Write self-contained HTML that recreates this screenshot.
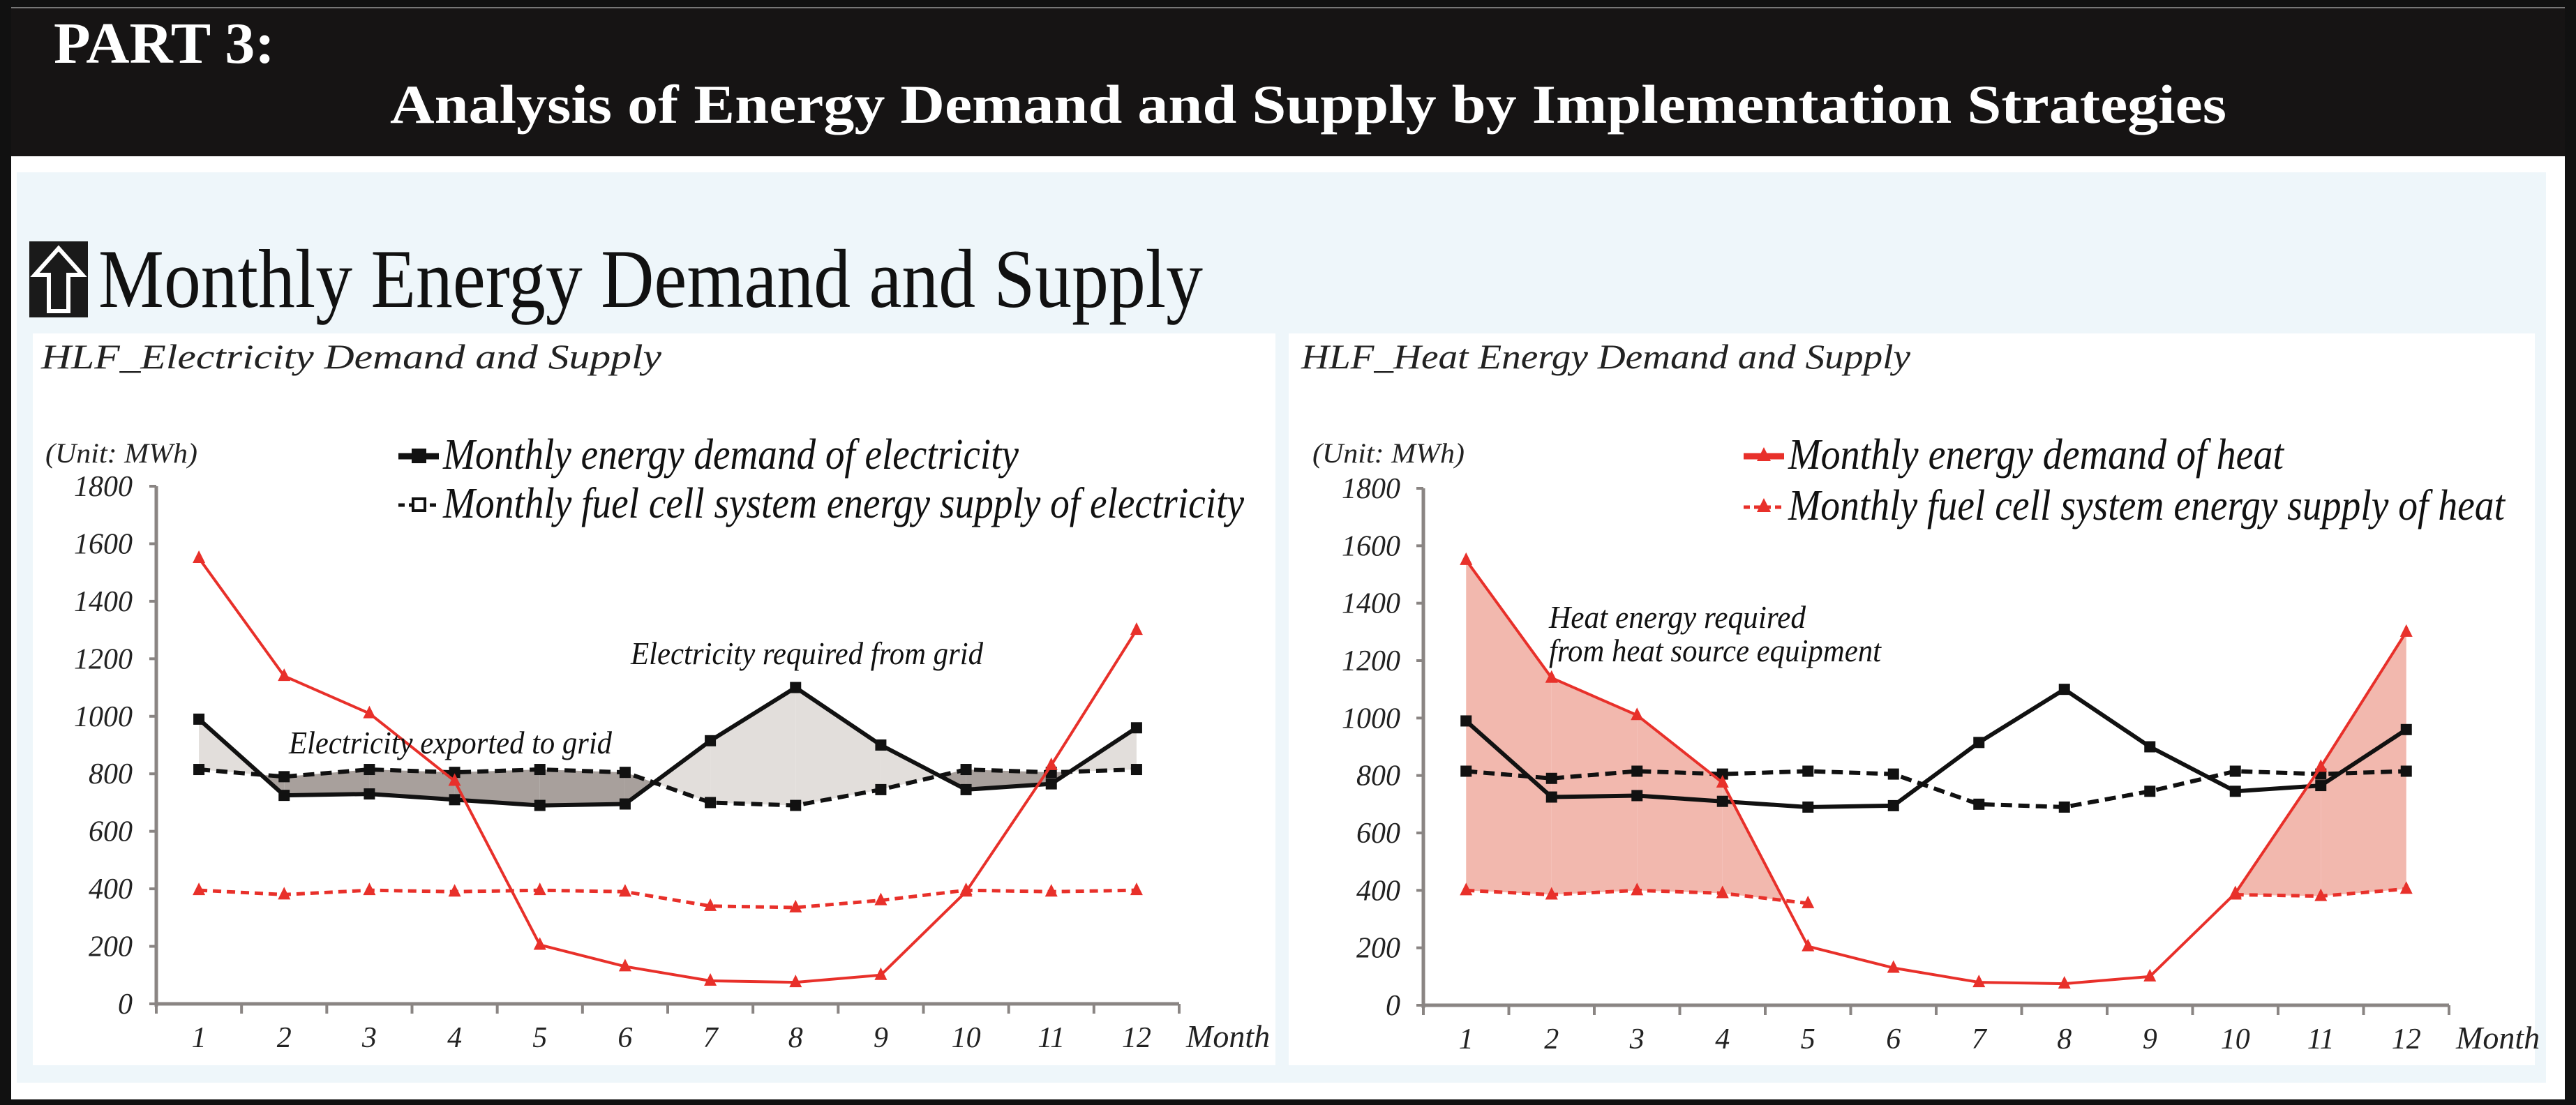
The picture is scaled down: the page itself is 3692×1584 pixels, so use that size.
<!DOCTYPE html>
<html><head><meta charset="utf-8"><style>
html,body{margin:0;padding:0;background:#fff}
svg{display:block}
svg, svg text{font-family:"Liberation Serif",serif}
</style></head><body>
<svg id="root" width="3692" height="1584" viewBox="0 0 3692 1584" xmlns="http://www.w3.org/2000/svg" font-family="'Liberation Serif', serif">
<rect x="0" y="0" width="3692" height="1584" fill="#111"/>
<rect x="16" y="224" width="3660" height="1352" fill="#fff"/>
<rect x="16" y="10" width="3660" height="214" fill="#161414"/>
<line x1="16" y1="11" x2="3676" y2="11" stroke="#777" stroke-width="2"/>
<text x="77" y="90" font-size="84" font-weight="bold" fill="#fff" textLength="317" lengthAdjust="spacingAndGlyphs">PART 3:</text>
<text x="559" y="176" font-size="78" font-weight="bold" fill="#fff" textLength="2632" lengthAdjust="spacingAndGlyphs">Analysis of Energy Demand and Supply by Implementation Strategies</text>
<rect x="24" y="247" width="3625" height="1305" fill="#eef6fa"/>
<g>
<rect x="42" y="346" width="84" height="109" fill="#1a1a1a"/>
<path d="M84 356 L118 394 L98 394 L98 446 L70 446 L70 394 L50 394 Z" fill="none" stroke="#fff" stroke-width="6"/>
</g>
<text x="141" y="440" font-size="120" fill="#111" textLength="1583" lengthAdjust="spacingAndGlyphs">Monthly Energy Demand and Supply</text>
<rect x="47" y="478" width="1781" height="1049" fill="#fff"/>
<rect x="1847" y="478" width="1786" height="1049" fill="#fff"/>
<text x="59" y="528" font-size="50" font-style="italic" fill="#222" textLength="889" lengthAdjust="spacingAndGlyphs">HLF_Electricity Demand and Supply</text>
<text x="1865" y="528" font-size="50" font-style="italic" fill="#222" textLength="873" lengthAdjust="spacingAndGlyphs">HLF_Heat Energy Demand and Supply</text>
<g id="left"></g>
<g id="right"></g>
</svg>
<script>
const months = [1,2,3,4,5,6,7,8,9,10,11,12];
const yTicks = [0,200,400,600,800,1000,1200,1400,1600,1800];
const elecDemand = [990,725,730,710,690,695,915,1100,900,745,765,960];
const elecSupply = [815,790,815,805,815,805,700,690,745,815,805,815];
const heatDemand = [1550,1140,1010,775,205,130,80,75,100,390,830,1300];
const heatSupplyLeft = [395,380,395,390,395,390,340,335,360,395,390,395];
const heatSupplyRight = [400,385,400,390,355,null,null,null,null,385,380,405];

const NS = "http://www.w3.org/2000/svg";
const RED = "#e8302a";
function mk(parent, tag, attrs, txt){
  const e = document.createElementNS(NS, tag);
  for (const k in attrs) e.setAttribute(k, attrs[k]);
  if (txt !== undefined) e.textContent = txt;
  parent.appendChild(e);
  return e;
}

function chart(g, o){
  const band = (o.axisEnd - o.axisX) / months.length;
  const xs = m => o.axisX + (m - 0.5) * band;
  const ys = v => o.y0 - v / 1800 * (o.y0 - o.y1800);
  function fillBetween(top, bot, posColor, negColor, name){
    for (let i = 0; i < months.length - 1; i++){
      const a0 = top[i], a1 = top[i+1], b0 = bot[i], b1 = bot[i+1];
      if (a0 == null || a1 == null || b0 == null || b1 == null) continue;
      const d0 = a0 - b0, d1 = a1 - b1;
      const x0 = xs(months[i]), x1 = xs(months[i+1]);
      if (d0 * d1 >= 0){
        const col = (d0 + d1) >= 0 ? posColor : negColor;
        if (!col) continue;
        const p = mk(g, 'polygon', {points:`${x0},${ys(a0)} ${x1},${ys(a1)} ${x1},${ys(b1)} ${x0},${ys(b0)}`, fill:col});
        
        
      } else {
        const t = d0 / (d0 - d1);
        const xc = x0 + t * (x1 - x0), vc = a0 + t * (a1 - a0);
        const c0 = d0 > 0 ? posColor : negColor, c1 = d1 > 0 ? posColor : negColor;
        if (c0){
          const p = mk(g, 'polygon', {points:`${x0},${ys(a0)} ${xc},${ys(vc)} ${x0},${ys(b0)}`, fill:c0});
          
          
        }
        if (c1){
          const p = mk(g, 'polygon', {points:`${xc},${ys(vc)} ${x1},${ys(a1)} ${x1},${ys(b1)}`, fill:c1});
          
          
        }
      }
    }
  }
  if (o.left){
    fillBetween(elecDemand, elecSupply, '#e2dedb', '#a8a09c', 'grid-area-fill');
  } else {
    fillBetween(heatDemand, o.heatSupply, '#f2b8ae', null, 'heat-required-fill');
  }
  const ax = mk(g, 'line', {x1:o.axisX, y1:o.y1800, x2:o.axisX, y2:o.y0+4, stroke:'#8a8583', 'stroke-width':5});
  
  
  const xa = mk(g, 'line', {x1:o.axisX, y1:o.y0, x2:o.axisEnd, y2:o.y0, stroke:'#8a8583', 'stroke-width':5});
  
  
  yTicks.forEach(v => {
    const l = mk(g, 'line', {x1:o.axisX-10, y1:ys(v), x2:o.axisX, y2:ys(v), stroke:'#8a8583', 'stroke-width':4});
    
    
    const t = mk(g, 'text', {x:o.tickRight, y:ys(v)+14, 'font-size':42, 'font-style':'italic', 'text-anchor':'end', fill:'#222'}, String(v));
    
    
  });
  for (let i = 0; i <= months.length; i++){
    const x = o.axisX + i * band;
    const l = mk(g, 'line', {x1:x, y1:o.y0, x2:x, y2:o.y0+14, stroke:'#8a8583', 'stroke-width':4});
    
    
  }
  months.forEach(m => {
    const t = mk(g, 'text', {x:xs(m), y:o.y0+62, 'font-size':42, 'font-style':'italic', 'text-anchor':'middle', fill:'#222'}, String(m));
    
    
  });
  const mt = mk(g, 'text', {x:o.axisEnd+10, y:o.y0+62, 'font-size':46, 'font-style':'italic', fill:'#222'}, 'Month');
  
  
  const ut = mk(g, 'text', {x:o.unitX, y:663, 'font-size':40, 'font-style':'italic', fill:'#222', textLength:218, lengthAdjust:'spacingAndGlyphs'}, '(Unit: MWh)');
  
  

  function series(vals, color, width, dash, marker, name){
    let segs = [], cur = [];
    vals.forEach((v,i) => { if (v == null){ if (cur.length) segs.push(cur); cur = []; } else cur.push(`${xs(months[i])},${ys(v)}`); });
    if (cur.length) segs.push(cur);
    segs.forEach(s => {
      const p = mk(g, 'polyline', {points:s.join(' '), fill:'none', stroke:color, 'stroke-width':width, 'stroke-dasharray':dash||'none', 'stroke-linejoin':'round'});
      
      
    });
    vals.forEach((v,i) => {
      if (v == null) return;
      const x = xs(months[i]), y = ys(v);
      let m;
      if (marker === 'sq') m = mk(g, 'rect', {x:x-8, y:y-8, width:16, height:16, fill:color});
      else m = mk(g, 'polygon', {points:`${x},${y-11} ${x+9},${y+7} ${x-9},${y+7}`, fill:color});
      
      
    });
  }
  series(elecSupply, '#111', 6, '16 9', 'sq', 'electricity-supply');
  series(elecDemand, '#111', 6, null, 'sq', 'electricity-demand');
  series(o.heatSupply, RED, 5, '12 8', 'tri', 'heat-supply');
  series(heatDemand, RED, 4, null, 'tri', 'heat-demand');
}

const L = document.getElementById('left');
chart(L, {left:true, axisX:224, axisEnd:1690, y0:1439, y1800:697, tickRight:190, unitX:65, heatSupply:heatSupplyLeft});
const R = document.getElementById('right');
chart(R, {left:false, axisX:2040, axisEnd:3510, y0:1441, y1800:700, tickRight:2007, unitX:1881, heatSupply:heatSupplyRight});

function legend(g, x, y, text, color, dash, marker, len, name){
  const lg = mk(g, 'g', {});
  
  
  mk(lg, 'line', {x1:x, y1:y-18, x2:x+58, y2:y-18, stroke:color, 'stroke-width':dash?5:9, 'stroke-dasharray':dash||'none'});
  if (marker === 'sq') mk(lg, 'rect', {x:x+21, y:y-27, width:17, height:17, fill:dash?'#fff':color, stroke:color, 'stroke-width':4});
  else mk(lg, 'polygon', {points:`${x+29},${y-31} ${x+39},${y-11} ${x+19},${y-11}`, fill:color});
  const t = mk(lg, 'text', {x:x+64, y:y, 'font-size':62, 'font-style':'italic', fill:'#111', textLength:len, lengthAdjust:'spacingAndGlyphs'}, text);
  
  
}
legend(L, 571, 672, 'Monthly energy demand of electricity', '#111', null, 'sq', 825, 'legend-electricity-demand');
legend(L, 571, 742, 'Monthly fuel cell system energy supply of electricity', '#111', '9 6', 'sq', 1148, 'legend-electricity-supply');
legend(R, 2499, 672, 'Monthly energy demand of heat', RED, null, 'tri', 710, 'legend-heat-demand');
legend(R, 2499, 745, 'Monthly fuel cell system energy supply of heat', RED, '9 6', 'tri', 1027, 'legend-heat-supply');

function note(g, x, y, text, len, name){
  const t = mk(g, 'text', {x:x, y:y, 'font-size':46, 'font-style':'italic', fill:'#111', textLength:len, lengthAdjust:'spacingAndGlyphs'}, text);
  
  
}
note(L, 904, 952, 'Electricity required from grid', 505, 'annotation-required-from-grid');
note(L, 414, 1080, 'Electricity exported to grid', 463, 'annotation-exported-to-grid');
note(R, 2220, 900, 'Heat energy required', 368, 'annotation-heat-required-1');
note(R, 2220, 948, 'from heat source equipment', 476, 'annotation-heat-required-2');
</script>
</body></html>
